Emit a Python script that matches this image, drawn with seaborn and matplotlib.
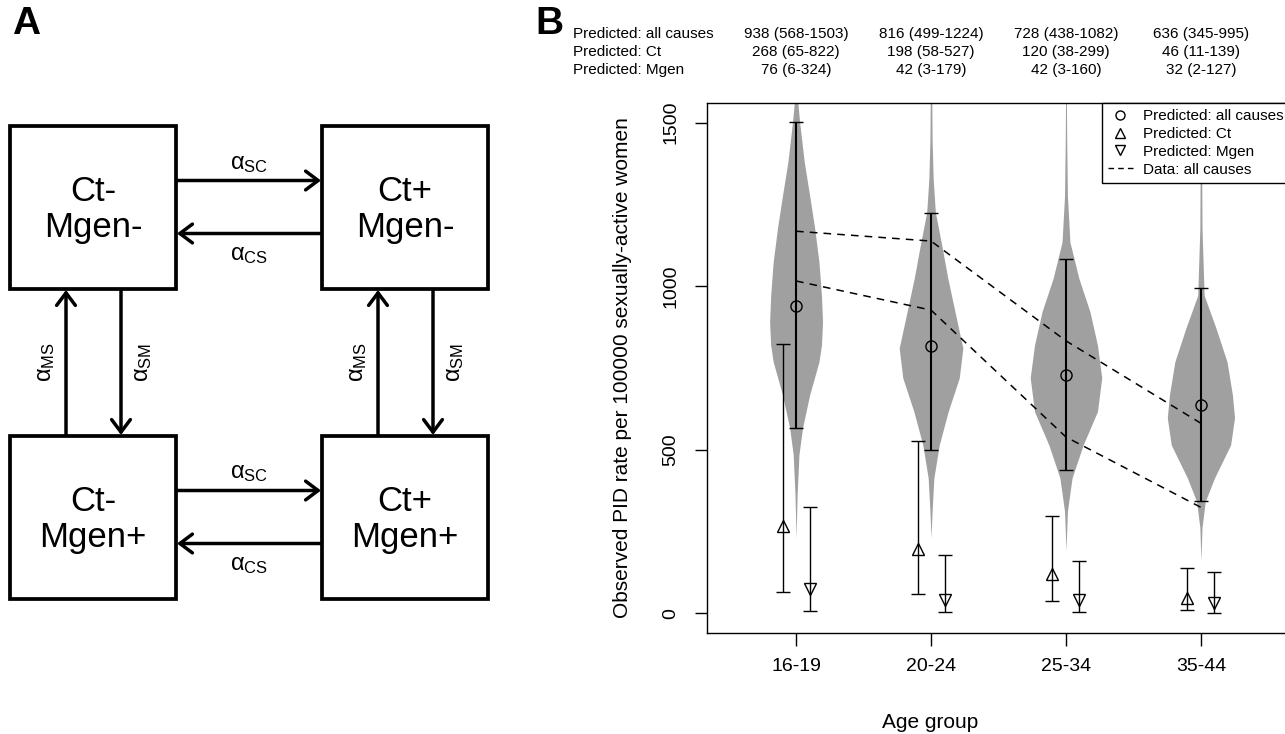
import numpy as np
import matplotlib.pyplot as plt
import matplotlib.transforms as mtransforms
import seaborn as sns
from matplotlib.lines import Line2D
from matplotlib.patches import Rectangle

sns.set_style("ticks")
plt.rcParams["font.family"] = ["Liberation Sans", "DejaVu Sans"]
for key in ("text.color", "axes.labelcolor", "xtick.color", "ytick.color", "axes.edgecolor"):
    plt.rcParams[key] = "black"

# ---- data ----
age_groups = ["16-19", "20-24", "25-34", "35-44"]

pred_all = [938, 816, 728, 636]
pred_all_lo = [568, 499, 438, 345]
pred_all_hi = [1503, 1224, 1082, 995]

pred_ct = [268, 198, 120, 46]
pred_ct_lo = [65, 58, 38, 11]
pred_ct_hi = [822, 527, 299, 139]

pred_mg = [76, 42, 42, 32]
pred_mg_lo = [6, 3, 3, 2]
pred_mg_hi = [324, 179, 160, 127]

data_upper = [1168, 1138, 833, 581]
data_lower = [1016, 927, 539, 324]

# posterior density profiles (rate level, relative density)
lev_1619 = [230, 363, 485, 567, 668, 769, 820, 891, 972, 1074, 1177, 1277, 1379, 1501, 1560, 1600]
dens_1619 = [0, 0.03, 0.08, 0.18, 0.38, 0.64, 0.71, 0.74, 0.71, 0.64, 0.52, 0.38, 0.23, 0.10, 0.05, 0.03]
lev_2024 = [230, 312, 414, 515, 617, 720, 811, 922, 1024, 1125, 1227, 1329, 1450, 1600]
dens_2024 = [0, 0.03, 0.08, 0.23, 0.48, 0.79, 0.89, 0.67, 0.47, 0.30, 0.12, 0.06, 0.03, 0.02]
lev_2534 = [190, 312, 414, 515, 617, 720, 820, 922, 1024, 1135, 1277, 1450, 1600]
dens_2534 = [0, 0.04, 0.17, 0.48, 0.88, 1.0, 0.88, 0.67, 0.36, 0.11, 0.04, 0.02, 0.01]
lev_3544 = [160, 262, 342, 414, 515, 598, 668, 769, 872, 972, 1177, 1400, 1600]
dens_3544 = [0, 0.03, 0.12, 0.38, 0.83, 0.94, 0.88, 0.73, 0.42, 0.09, 0.03, 0.02, 0.01]

states = ["Ct-\nMgen-", "Ct+\nMgen-", "Ct-\nMgen+", "Ct+\nMgen+"]

W, H = 1285, 734
fig = plt.figure(figsize=(W / 100, H / 100), dpi=100)

# ---- panel A: compartment diagram (pixel coordinates) ----
axA = fig.add_axes([0, 0, 540 / W, 1])
axA.set_xlim(0, 540)
axA.set_ylim(H, 0)
axA.axis("off")

box_x = [10, 322]
box_y = [126, 436]
bw, bh = 166, 163
for k, lab in enumerate(states):
    x0 = box_x[k % 2]
    y0 = box_y[k // 2]
    axA.add_patch(Rectangle((x0, y0), bw, bh, fill=False, lw=2.7, ec="black"))
    axA.text(x0 + bw / 2, y0 + bh / 2 + 2, lab, ha="center", va="center",
             fontsize=25, linespacing=1.15)


def arrow(x0, y0, x1, y1):
    axA.annotate("", xy=(x1, y1), xytext=(x0, y0),
                 arrowprops=dict(arrowstyle="->,head_length=0.6,head_width=0.45",
                                 lw=2.5, color="black", shrinkA=0, shrinkB=0,
                                 mutation_scale=15))


def rate(x, y, sub, rot=0):
    axA.text(x, y, r"$\mathregular{α_{%s}}$" % sub, ha="center", va="center",
             fontsize=17, rotation=rot)


xl, xr = box_x[0] + bw, box_x[1]
for y0 in box_y:
    yc = y0 + bh / 2
    arrow(xl + 1, yc - 27, xr - 1, yc - 27)
    arrow(xr - 1, yc + 26, xl + 1, yc + 26)
    rate((xl + xr) / 2, yc - 44, "SC")
    rate((xl + xr) / 2, yc + 48, "CS")

yt, yb = box_y[0] + bh, box_y[1]
for x0 in box_x:
    arrow(x0 + 56, yb - 1, x0 + 56, yt + 1)
    arrow(x0 + 111, yt + 1, x0 + 111, yb - 1)
    rate(x0 + 36, (yt + yb) / 2, "MS", rot=90)
    rate(x0 + 133, (yt + yb) / 2, "SM", rot=90)

# ---- panel B ----
ax = fig.add_axes([707 / W, 1 - 633 / H, 583 / W, 530 / H])
xs = np.arange(1, len(age_groups) + 1)

violins = [(lev_1619, dens_1619), (lev_2024, dens_2024),
           (lev_2534, dens_2534), (lev_3544, dens_3544)]
vwidth = 0.265
for i, (lev, dens) in enumerate(violins):
    w = np.asarray(dens) * vwidth
    ax.fill_betweenx(lev, xs[i] - w, xs[i] + w, color="#a0a0a0", lw=0, zorder=1)

for series in (data_upper, data_lower):
    sns.lineplot(x=xs, y=series, ax=ax, color="black", lw=1.1, zorder=2)
    ax.lines[-1].set_dashes([5, 4])


def bars(xpos, mid, lo, hi, marker, ms, lw):
    mid, lo, hi = map(np.asarray, (mid, lo, hi))
    ax.errorbar(xpos, mid, yerr=[mid - lo, hi - mid], fmt=marker, ms=ms,
                mfc="none", mec="black", mew=1.0, ecolor="black",
                elinewidth=lw, capsize=5, capthick=lw, zorder=3)


bars(xs, pred_all, pred_all_lo, pred_all_hi, "o", 8, 1.5)
bars(xs - 0.1, pred_ct, pred_ct_lo, pred_ct_hi, "^", 9, 1.0)
bars(xs + 0.1, pred_mg, pred_mg_lo, pred_mg_hi, "v", 9, 1.0)

ax.set_xlim(0.34, 4.66)
ax.set_ylim(-60, 1560)
ax.set_xticks(xs, age_groups)
ax.set_yticks([0, 500, 1000, 1500])
for lab in ax.get_yticklabels():
    lab.set_rotation(90)
    lab.set_va("center")
ax.tick_params(direction="out", length=9, width=1, labelsize=14)
ax.tick_params(axis="y", pad=11)
ax.tick_params(axis="x", pad=9)
for sp in ax.spines.values():
    sp.set_visible(True)
    sp.set_linewidth(1)
ax.set_xlabel("Age group", fontsize=15)
ax.xaxis.set_label_coords((930 - 707) / 583, -(722 - 633) / 530)
ax.xaxis.label.set_va("center")
ax.set_ylabel("Observed PID rate per 100000 sexually-active women", fontsize=15)
ax.yaxis.set_label_coords(-(707 - 622) / 583, 0.5)
ax.yaxis.label.set_va("center")

handles = [
    Line2D([], [], marker="o", ls="none", mfc="none", mec="black", ms=6.5),
    Line2D([], [], marker="^", ls="none", mfc="none", mec="black", ms=6.5),
    Line2D([], [], marker="v", ls="none", mfc="none", mec="black", ms=6.5),
    Line2D([], [], ls=(0, (4, 3)), color="black", lw=1),
]
labels = ["Predicted: all causes", "Predicted: Ct", "Predicted: Mgen", "Data: all causes"]
leg = ax.legend(handles, labels, loc="upper right", frameon=True, fancybox=False,
                edgecolor="black", framealpha=1, borderaxespad=0, fontsize=11,
                handlelength=1.6, handletextpad=0.7, labelspacing=0.25, borderpad=0.4)
leg.get_frame().set_linewidth(1)

# table of predicted values above the panel
trans = mtransforms.blended_transform_factory(ax.transData, fig.transFigure)
rows = [("Predicted: all causes", pred_all, pred_all_lo, pred_all_hi),
        ("Predicted: Ct", pred_ct, pred_ct_lo, pred_ct_hi),
        ("Predicted: Mgen", pred_mg, pred_mg_lo, pred_mg_hi)]
for r, (label, m, lo, hi) in enumerate(rows):
    yy = 1 - (34 + 18 * r) / H
    fig.text(573 / W, yy, label, ha="left", va="center", fontsize=11)
    for i in range(len(xs)):
        ax.text(xs[i], yy, f"{m[i]} ({lo[i]}-{hi[i]})", transform=trans,
                ha="center", va="center", fontsize=11, clip_on=False)

fig.text(12 / W, 1 - 6 / H, "A", fontsize=28, fontweight="bold", va="top")
fig.text(535 / W, 1 - 6 / H, "B", fontsize=28, fontweight="bold", va="top")

fig.savefig("out.png", dpi=100)
plt.close(fig)
